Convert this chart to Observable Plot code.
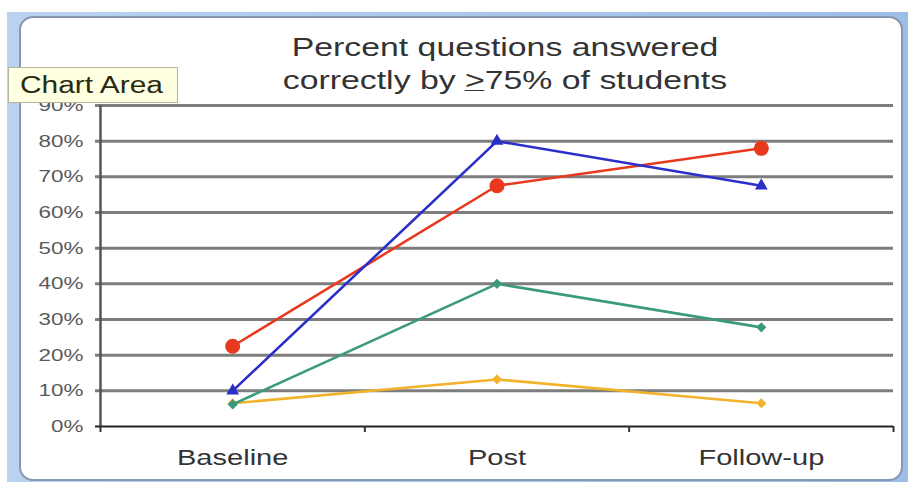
<!DOCTYPE html>
<html>
<head>
<meta charset="utf-8">
<script src="https://cdn.jsdelivr.net/npm/d3@7"></script>
<script src="https://cdn.jsdelivr.net/npm/@observablehq/plot@0.6"></script>
<style>
  html, body { margin: 0; padding: 0; background: #fff; }
  #wrap { position: relative; width: 908px; height: 482px; overflow: hidden; font-family: "Liberation Sans", Arial, sans-serif; }
  #edge { position: absolute; left: 7px; top: 12px; width: 901px; height: 470px;
          background: linear-gradient(90deg, #b9d2f0, #9cbde6); }
  #panel { position: absolute; left: 19px; top: 16px; width: 880px; height: 461px;
           background: #fff; border: 2px solid #8796b4; border-radius: 14px; }
  #chart { position: absolute; left: 0; top: 0; }
  #title { position: absolute; left: 255px; width: 500px; top: 31px; text-align: center;
           font-size: 26px; line-height: 33px; color: #333; transform: scaleX(1.3); transform-origin: 50% 50%; }
  #title u { text-decoration: none; border-bottom: 1.5px solid #333; line-height: 19px; display: inline-block; }
  #tip { position: absolute; left: 8px; top: 67px; width: 170px; height: 36px; box-sizing: border-box;
         background: #ffffe1; border: 1px solid #b5b5a0; font-size: 23px; color: #2a2a10;
         padding-left: 11px; line-height: 35px; white-space: nowrap; }
  #tip span { display: inline-block; transform: scaleX(1.3); transform-origin: 0 50%; }
</style>
</head>
<body>
<div id="wrap">
  <div id="edge"></div>
  <div id="panel"></div>
  <div id="chart"></div>
  <div id="title">Percent questions answered<br>correctly by <u>&gt;</u>75% of students</div>
  <div id="tip"><span>Chart Area</span></div>
</div>
<script>
// Time points along the x axis
const phases = ["Baseline", "Post", "Follow-up"];

// Share of questions answered correctly by at least 75% of students, per group
const redSeries = [0.225, 0.675, 0.78];
const blueSeries = [0.10, 0.80, 0.675];
const greenSeries = [0.062, 0.40, 0.278];
const yellowSeries = [0.065, 0.132, 0.065];

const yTicks = [0, 0.1, 0.2, 0.3, 0.4, 0.5, 0.6, 0.7, 0.8, 0.9];

const series = [
  {key: "red", values: redSeries, color: "#e8391e", symbol: "circle", r: 6.8},
  {key: "blue", values: blueSeries, color: "#2b2fc8", symbol: "triangle", r: 3.8},
  {key: "green", values: greenSeries, color: "#3b9a7c", symbol: "diamond2", r: 3.6},
  {key: "yellow", values: yellowSeries, color: "#f2b22c", symbol: "diamond2", r: 3.6}
];

// Long table: each phase sits in the middle of its slot on a 0..3 index axis
const rows = series.flatMap(s => s.values.map((v, i) => ({
  key: s.key, phase: phases[i], pos: i + 0.5, value: v
})));

const labelRows = phases.map((p, i) => ({phase: p, pos: i + 0.5}));
const slotEdges = d3.range(phases.length + 1);

const drawOrder = ["yellow", "green", "red", "blue"];

const plot = Plot.plot({
  width: 908,
  height: 482,
  marginLeft: 100,
  marginRight: 15,
  marginTop: 105,
  marginBottom: 56,
  style: {background: "transparent", fontFamily: "'Liberation Sans', Arial, sans-serif"},
  x: {type: "linear", domain: [0, phases.length], axis: null},
  y: {type: "linear", domain: [0, 0.9], axis: null},
  marks: [
    // horizontal gridlines, poking slightly left of the axis as tick marks
    Plot.ruleY(yTicks.filter(t => t > 0), {y: d => d, x1: 0, x2: phases.length, stroke: "#7d7d7d", strokeWidth: 3, insetLeft: -5}),
    // y tick labels
    Plot.text(yTicks, {x: 0, y: d => d, text: d => `${Math.round(d * 100)}%`, textAnchor: "end", dx: -17, fontSize: 17, fill: "#5a5a5a"}),
    // vertical value axis
    Plot.ruleX([0], {y1: 0, y2: 0.9, stroke: "#555", strokeWidth: 2.5}),
    // category axis with ticks at slot boundaries
    Plot.ruleY([0], {x1: 0, x2: phases.length, stroke: "#222", strokeWidth: 2, insetLeft: -5}),
    Plot.ruleX(slotEdges, {x: d => d, y1: 0, y2: 0, insetBottom: -6, stroke: "#333", strokeWidth: 2}),
    Plot.text(labelRows, {x: "pos", y: 0, text: "phase", dy: 31, fontSize: 22, fill: "#333"}),
    // series lines and markers
    ...drawOrder.flatMap(k => {
      const s = series.find(d => d.key === k);
      const data = rows.filter(d => d.key === k);
      return [
        Plot.line(data, {x: "pos", y: "value", stroke: s.color, strokeWidth: 2.6}),
        Plot.dot(data, {x: "pos", y: "value", fill: s.color, stroke: s.color, symbol: () => s.symbol, r: s.r})
      ];
    })
  ]
});

document.getElementById("chart").appendChild(plot);

// Widen the axis labels horizontally to the chart's broad lettering
plot.querySelectorAll("text").forEach(t => {
  const w = t.getComputedTextLength();
  if (w > 0) {
    t.setAttribute("textLength", (w * 1.32).toFixed(1));
    t.setAttribute("lengthAdjust", "spacingAndGlyphs");
  }
});
</script>
</body>
</html>
